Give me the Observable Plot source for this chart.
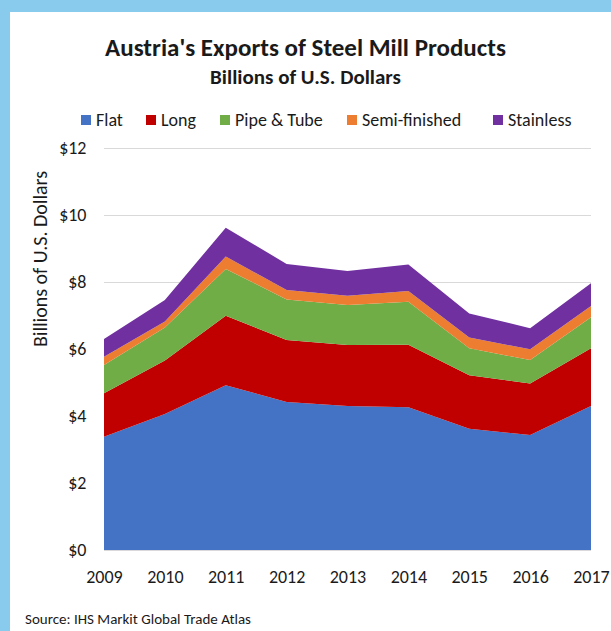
<!DOCTYPE html>
<html>
<head>
<meta charset="utf-8">
<script src="https://cdn.jsdelivr.net/npm/d3@7"></script>
<script src="https://cdn.jsdelivr.net/npm/@observablehq/plot@0.6"></script>
<style>
  html, body { margin: 0; padding: 0; background: #fff; }
  #wrap { position: relative; width: 611px; height: 631px; overflow: hidden; background: #fff;
          font-family: "Carlito", "Liberation Sans Narrow", "Lato", sans-serif; color: #1a1a1a; }
  #wrap svg { position: absolute; left: 0; top: 0; }
  .band { position: absolute; background: #88CBEC; }
  .title { position: absolute; left: 0; width: 611px; text-align: center; font-weight: bold; }
  #legend { position: absolute; top: 109px; left: 0; width: 611px; font-size: 18px; }
  .li { position: absolute; top: 0; white-space: nowrap; line-height: 22px; }
  .sw { display: inline-block; width: 10px; height: 10px; margin-right: 5px; vertical-align: 1px; }
  #ylab { position: absolute; left: 40px; top: 259px; transform: translate(-50%, -50%) rotate(-90deg);
          white-space: nowrap; font-size: 20px; }
  #src { position: absolute; left: 25px; top: 610px; font-size: 15px; white-space: nowrap; }
</style>
</head>
<body>
<div id="wrap"></div>
<script>
const years = [2009, 2010, 2011, 2012, 2013, 2014, 2015, 2016, 2017];
const categories = ["Flat", "Long", "Pipe & Tube", "Semi-finished", "Stainless"];
const colors = ["#4472C4", "#C00000", "#70AD47", "#ED7D31", "#7030A0"];
const flat = [3.38, 4.06, 4.92, 4.42, 4.30, 4.26, 3.62, 3.43, 4.30];
const long = [1.30, 1.60, 2.07, 1.85, 1.82, 1.87, 1.60, 1.54, 1.72];
const pipeTube = [0.84, 0.98, 1.40, 1.21, 1.19, 1.28, 0.80, 0.70, 0.93];
const semiFinished = [0.25, 0.18, 0.37, 0.28, 0.28, 0.32, 0.32, 0.32, 0.33];
const stainless = [0.53, 0.64, 0.86, 0.78, 0.74, 0.79, 0.72, 0.63, 0.68];
const yTicks = [0, 2, 4, 6, 8, 10, 12];

const series = [flat, long, pipeTube, semiFinished, stainless];
const data = [];
categories.forEach((c, i) => years.forEach((y, j) => data.push({year: y, type: c, value: series[i][j]})));

const wrap = document.getElementById("wrap");

const plot = Plot.plot({
  width: 611,
  height: 631,
  marginTop: 148,
  marginBottom: 81,
  marginLeft: 104,
  marginRight: 20,
  style: {background: "transparent", fontFamily: '"Carlito", "Liberation Sans Narrow", "Lato", sans-serif', fontSize: "18px", color: "#1a1a1a"},
  x: {domain: [2009, 2017], ticks: years, tickFormat: d => String(d)},
  y: {domain: [0, 12], ticks: yTicks},
  color: {domain: categories, range: colors},
  marks: [
    Plot.gridY(yTicks, {stroke: "#d9d9d9", strokeOpacity: 1, strokeWidth: 1.2}),
    Plot.areaY(data, {x: "year", y: "value", fill: "type", order: categories}),
    Plot.axisX({ticks: years, tickSize: 0, tickPadding: 20, label: null, tickFormat: d => String(d), fontSize: 18}),
    Plot.axisY({ticks: yTicks, tickSize: 0, tickPadding: 18, label: null, tickFormat: d => "$" + d, fontSize: 18})
  ]
});
wrap.appendChild(plot);

function add(html, cls, style) {
  const d = document.createElement("div");
  if (cls) d.className = cls;
  if (style) d.setAttribute("style", style);
  d.innerHTML = html;
  wrap.appendChild(d);
  return d;
}
add("", "band", "left:0;top:0;width:611px;height:12px;");
add("", "band", "left:0;top:0;width:10px;height:631px;");
add("Austria's Exports of Steel Mill Products", "title", "top:32px;font-size:25px;");
add("Billions of U.S. Dollars", "title", "top:64px;font-size:21px;");

const legend = add("", null, null);
legend.id = "legend";
const legendX = [81, 146, 220, 347, 493];
categories.forEach((c, i) => {
  const it = document.createElement("div");
  it.className = "li";
  it.style.left = legendX[i] + "px";
  it.innerHTML = `<span class="sw" style="background:${colors[i]}"></span>${c}`;
  legend.appendChild(it);
});
const yl = add("Billions of U.S. Dollars", null, null); yl.id = "ylab";
const src = add("Source: IHS Markit Global Trade Atlas", null, null); src.id = "src";
</script>
</body>
</html>
